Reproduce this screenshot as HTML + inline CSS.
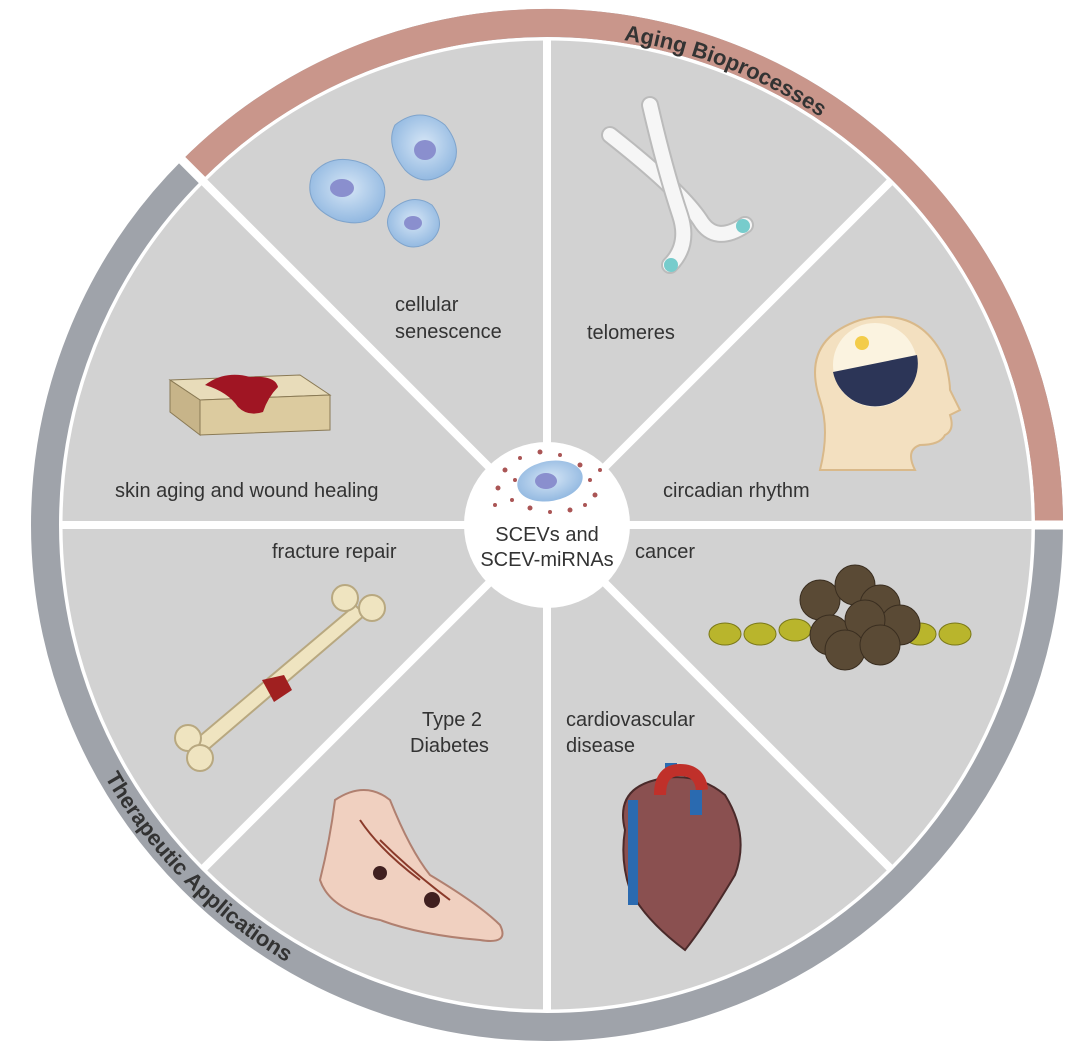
<!DOCTYPE html>
<html><head><meta charset="utf-8"><style>
html,body{margin:0;padding:0;background:#fff;}
svg{display:block;}
text{font-family:"Liberation Sans","DejaVu Sans",sans-serif;fill:#333;}
</style></head><body>
<svg width="1080" height="1044" viewBox="0 0 1080 1044" xmlns="http://www.w3.org/2000/svg">
<defs>
<radialGradient id="cell" cx="50%" cy="45%" r="60%"><stop offset="0" stop-color="#d6e6f6"/><stop offset="1" stop-color="#8db5df"/></radialGradient>
</defs>
<circle cx="547" cy="525" r="502" fill="none" stroke="#9fa3aa" stroke-width="28"/>
<path d="M 192.0 170.0 A 502 502 0 0 1 1049 525" fill="none" stroke="#c9968b" stroke-width="28"/>
<line x1="547" y1="525" x2="170" y2="148" stroke="#fff" stroke-width="9"/>
<line x1="1020" y1="525" x2="1075" y2="525" stroke="#fff" stroke-width="9"/>
<circle cx="547" cy="525" r="486" fill="#d2d2d2" stroke="#fff" stroke-width="3"/>
<g stroke="#fff" stroke-width="8">
<line x1="547" y1="39" x2="547" y2="1011"/>
<line x1="61" y1="525" x2="1033" y2="525"/>
<line x1="203" y1="181" x2="891" y2="869"/>
<line x1="891" y1="181" x2="203" y2="869"/>
</g>
<path id="topArc" d="M 56 525 A 491 491 0 0 1 1038 525" fill="none"/>
<text font-size="22" font-weight="bold" fill="#222"><textPath href="#topArc" startOffset="55%">Aging Bioprocesses</textPath></text>
<path id="botArc" d="M 38 525 A 509 509 0 0 0 1056 525" fill="none"/>
<text font-size="22" font-weight="bold" fill="#222"><textPath href="#botArc" startOffset="16.5%">Therapeutic Applications</textPath></text>
<circle cx="547" cy="525" r="83" fill="#fff"/>
<g fill="#a55">
<circle cx="505" cy="470" r="2.5"/><circle cx="520" cy="458" r="2"/><circle cx="540" cy="452" r="2.5"/><circle cx="560" cy="455" r="2"/><circle cx="580" cy="465" r="2.5"/><circle cx="590" cy="480" r="2"/><circle cx="595" cy="495" r="2.5"/><circle cx="585" cy="505" r="2"/><circle cx="570" cy="510" r="2.5"/><circle cx="550" cy="512" r="2"/><circle cx="530" cy="508" r="2.5"/><circle cx="512" cy="500" r="2"/><circle cx="498" cy="488" r="2.5"/><circle cx="495" cy="505" r="2"/><circle cx="600" cy="470" r="2"/><circle cx="515" cy="480" r="2"/>
</g>
<ellipse cx="550" cy="481" rx="33" ry="20" fill="url(#cell)" transform="rotate(-10 550 481)"/>
<ellipse cx="546" cy="481" rx="11" ry="8" fill="#8a8fce"/>
<text x="547" y="541" font-size="20" text-anchor="middle" fill="#222">SCEVs and</text>
<text x="547" y="566" font-size="20" text-anchor="middle" fill="#222">SCEV-miRNAs</text>
<g font-size="20">
<text x="395" y="311">cellular</text>
<text x="395" y="338">senescence</text>
<text x="587" y="339">telomeres</text>
<text x="663" y="497">circadian rhythm</text>
<text x="115" y="497">skin aging and wound healing</text>
<text x="272" y="558">fracture repair</text>
<text x="635" y="558">cancer</text>
<text x="422" y="726">Type 2</text>
<text x="410" y="752">Diabetes</text>
<text x="566" y="726">cardiovascular</text>
<text x="566" y="752">disease</text>
</g>
<g>
<path d="M312 175 q20-25 55-10 q25 15 15 40 q-10 25-45 15 q-35-15-25-45z" fill="url(#cell)" stroke="#7fa4cc"/>
<ellipse cx="342" cy="188" rx="12" ry="9" fill="#8a8fce"/>
<path d="M395 125 q25-20 50 0 q20 25 5 45 q-25 20-45 0 q-20-25-10-45z" fill="url(#cell)" stroke="#7fa4cc"/>
<ellipse cx="425" cy="150" rx="11" ry="10" fill="#8a8fce"/>
<path d="M392 210 q20-18 40-5 q15 20 0 35 q-20 15-38-2 q-12-15-2-28z" fill="url(#cell)" stroke="#7fa4cc"/>
<ellipse cx="413" cy="223" rx="9" ry="7" fill="#8a8fce"/>
</g>
<g fill="none" stroke-linecap="round">
<path d="M610 135 Q680 190 700 220 Q715 245 745 225" stroke="#bbb" stroke-width="18"/>
<path d="M610 135 Q680 190 700 220 Q715 245 745 225" stroke="#f6f6f6" stroke-width="14"/>
<path d="M650 105 Q665 170 680 215 Q690 245 670 265" stroke="#bbb" stroke-width="18"/>
<path d="M650 105 Q665 170 680 215 Q690 245 670 265" stroke="#f6f6f6" stroke-width="14"/>
</g>
<circle cx="743" cy="226" r="7" fill="#7cc"/><circle cx="671" cy="265" r="7" fill="#7cc"/>
<path d="M820 470 q10-40 0-70 q-20-60 40-80 q60-15 85 40 q5 20 5 30 l10 20 -10 5 q5 15 -5 20 q-5 10-25 10 q-15 5-5 25z" fill="#f3e0c0" stroke="#d9b98a" stroke-width="2"/>
<circle cx="875" cy="365" r="42" fill="#fbf3e0"/>
<path d="M833 372 L917 355 A42 42 0 0 1 833 372z" fill="#2c3557"/>
<circle cx="862" cy="343" r="7" fill="#f3cc4a"/>
<g>
<path d="M170 380 L300 375 L330 395 L200 400z" fill="#e8dcba" stroke="#8a7a55"/>
<path d="M170 380 L200 400 L200 435 L170 412z" fill="#c7b489" stroke="#8a7a55"/>
<path d="M200 400 L330 395 L330 430 L200 435z" fill="#dccb9f" stroke="#8a7a55"/>
<path d="M205 385 q20-15 45-8 q25-2 28 10 q-10 10-15 25 q-15 5-25 -5 q-10-15-33-22z" fill="#a01523"/>
</g>
<g>
<g fill="#b9b52c" stroke="#7a7818"><ellipse cx="725" cy="634" rx="16" ry="11"/><ellipse cx="760" cy="634" rx="16" ry="11"/><ellipse cx="795" cy="630" rx="16" ry="11"/><ellipse cx="920" cy="634" rx="16" ry="11"/><ellipse cx="955" cy="634" rx="16" ry="11"/></g>
<g fill="#5a4a35" stroke="#3a2e20"><circle cx="820" cy="600" r="20"/><circle cx="855" cy="585" r="20"/><circle cx="880" cy="605" r="20"/><circle cx="900" cy="625" r="20"/><circle cx="830" cy="635" r="20"/><circle cx="865" cy="620" r="20"/><circle cx="845" cy="650" r="20"/><circle cx="880" cy="645" r="20"/></g>
</g>
<g fill="#efe4c0" stroke="#b8a880" stroke-width="2">
<path d="M195 740 L355 605 L365 615 L205 752z"/>
<circle cx="345" cy="598" r="13"/><circle cx="372" cy="608" r="13"/>
<circle cx="188" cy="738" r="13"/><circle cx="200" cy="758" r="13"/>
</g>
<path d="M262 680 l22-5 8 15 -18 12z" fill="#a02020"/>
<path d="M335 800 q30-20 55 0 q20 50 40 75 q50 30 70 50 q10 20-20 15 q-60-5-100-20 q-50-10-60-40 q10-40 15-80z" fill="#f0d0c0" stroke="#b08070" stroke-width="2"/>
<path d="M360 820 q20 30 60 60 M380 840 q30 30 70 60" stroke="#8a3a2a" fill="none" stroke-width="2"/>
<circle cx="380" cy="873" r="7" fill="#402020"/><circle cx="432" cy="900" r="8" fill="#402020"/>
<g>
<path d="M650 800 q-5-20 15-25 l0-12 12 0 0 12" fill="#2a6ab0"/>
<path d="M625 830 q-10-40 30-50 q40-10 70 15 q25 40 10 80 q-30 50-50 75 q-40-30-55-60 q-10-30-5-60z" fill="#8a5050" stroke="#4a2a2a" stroke-width="2"/>
<path d="M660 795 q0-25 20-25 q20 0 22 20" fill="none" stroke="#c0302a" stroke-width="12"/>
<rect x="628" y="800" width="10" height="105" fill="#2a6ab0"/>
<rect x="690" y="790" width="12" height="25" fill="#2a6ab0"/>
</g>
</svg>
</body></html>
